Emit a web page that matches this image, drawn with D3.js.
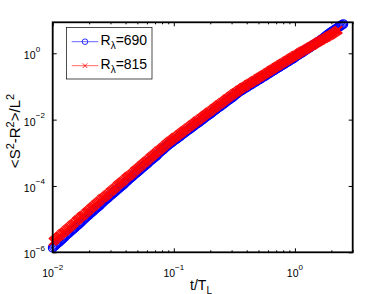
<!DOCTYPE html>
<html><head><meta charset="utf-8">
<script src="https://cdn.jsdelivr.net/npm/d3@7"></script>
<style>
body{margin:0;background:#fff}
svg{display:block}
text{font-family:"Liberation Sans",Arial,Helvetica,sans-serif;fill:#000}
</style>
</head><body>
<svg id="chart" width="390" height="294"></svg>
<script>
// time t/T_L (shared by both series)
const tValues = [
1.000e-2,1.023e-2,1.047e-2,1.072e-2,1.096e-2,1.122e-2,1.148e-2,1.175e-2,1.202e-2,1.230e-2,
1.259e-2,1.288e-2,1.318e-2,1.349e-2,1.380e-2,1.413e-2,1.445e-2,1.479e-2,1.514e-2,1.549e-2,
1.585e-2,1.622e-2,1.660e-2,1.698e-2,1.738e-2,1.778e-2,1.820e-2,1.862e-2,1.905e-2,1.950e-2,
1.995e-2,2.042e-2,2.089e-2,2.138e-2,2.188e-2,2.239e-2,2.291e-2,2.344e-2,2.399e-2,2.455e-2,
2.512e-2,2.570e-2,2.630e-2,2.692e-2,2.754e-2,2.818e-2,2.884e-2,2.951e-2,3.020e-2,3.090e-2,
3.162e-2,3.236e-2,3.311e-2,3.388e-2,3.467e-2,3.548e-2,3.631e-2,3.715e-2,3.802e-2,3.890e-2,
3.981e-2,4.074e-2,4.169e-2,4.266e-2,4.365e-2,4.467e-2,4.571e-2,4.677e-2,4.786e-2,4.898e-2,
5.012e-2,5.129e-2,5.248e-2,5.370e-2,5.495e-2,5.623e-2,5.754e-2,5.888e-2,6.026e-2,6.166e-2,
6.310e-2,6.457e-2,6.607e-2,6.761e-2,6.918e-2,7.079e-2,7.244e-2,7.413e-2,7.586e-2,7.762e-2,
7.943e-2,8.128e-2,8.318e-2,8.511e-2,8.710e-2,8.913e-2,9.120e-2,9.333e-2,9.550e-2,9.772e-2,
1.000e-1,1.023e-1,1.047e-1,1.072e-1,1.096e-1,1.122e-1,1.148e-1,1.175e-1,1.202e-1,1.230e-1,
1.259e-1,1.288e-1,1.318e-1,1.349e-1,1.380e-1,1.413e-1,1.445e-1,1.479e-1,1.514e-1,1.549e-1,
1.585e-1,1.622e-1,1.660e-1,1.698e-1,1.738e-1,1.778e-1,1.820e-1,1.862e-1,1.905e-1,1.950e-1,
1.995e-1,2.042e-1,2.089e-1,2.138e-1,2.188e-1,2.239e-1,2.291e-1,2.344e-1,2.399e-1,2.455e-1,
2.512e-1,2.570e-1,2.630e-1,2.692e-1,2.754e-1,2.818e-1,2.884e-1,2.951e-1,3.020e-1,3.090e-1,
3.162e-1,3.236e-1,3.311e-1,3.388e-1,3.467e-1,3.548e-1,3.631e-1,3.715e-1,3.802e-1,3.890e-1,
3.981e-1,4.074e-1,4.169e-1,4.266e-1,4.365e-1,4.467e-1,4.571e-1,4.677e-1,4.786e-1,4.898e-1,
5.012e-1,5.129e-1,5.248e-1,5.370e-1,5.495e-1,5.623e-1,5.754e-1,5.888e-1,6.026e-1,6.166e-1,
6.310e-1,6.457e-1,6.607e-1,6.761e-1,6.918e-1,7.079e-1,7.244e-1,7.413e-1,7.586e-1,7.762e-1,
7.943e-1,8.128e-1,8.318e-1,8.511e-1,8.710e-1,8.913e-1,9.120e-1,9.333e-1,9.550e-1,9.772e-1,
1.000,1.023,1.047,1.072,1.096,1.122,1.148,1.175,1.202,1.230,
1.259,1.288,1.318,1.349,1.380,1.413,1.445,1.479,1.514,1.549,
1.585,1.622,1.660,1.698,1.738,1.778,1.820,1.862,1.905,1.950,
1.995,2.042,2.089,2.138,2.188,2.239,2.291,2.344,2.399,2.455,
2.512
];

// <S^2-R^2>/L^2 for R_lambda = 690 (blue circles)
const values690 = [
1.38e-6,1.48e-6,1.59e-6,1.74e-6,1.86e-6,2.00e-6,2.14e-6,2.34e-6,2.51e-6,2.75e-6,
2.95e-6,3.24e-6,3.47e-6,3.72e-6,3.98e-6,4.37e-6,4.68e-6,5.01e-6,5.37e-6,5.89e-6,
6.31e-6,6.76e-6,7.24e-6,7.94e-6,8.51e-6,9.33e-6,1.00e-5,1.10e-5,1.18e-5,1.26e-5,
1.35e-5,1.48e-5,1.59e-5,1.70e-5,1.82e-5,2.00e-5,2.14e-5,2.29e-5,2.46e-5,2.63e-5,
2.88e-5,3.09e-5,3.39e-5,3.63e-5,3.89e-5,4.17e-5,4.47e-5,4.90e-5,5.25e-5,5.62e-5,
6.03e-5,6.46e-5,6.92e-5,7.59e-5,8.13e-5,8.71e-5,9.33e-5,1.00e-4,1.07e-4,1.15e-4,
1.26e-4,1.35e-4,1.45e-4,1.59e-4,1.70e-4,1.82e-4,1.95e-4,2.14e-4,2.29e-4,2.46e-4,
2.63e-4,2.82e-4,3.02e-4,3.31e-4,3.55e-4,3.80e-4,4.07e-4,4.37e-4,4.68e-4,5.01e-4,
5.50e-4,5.89e-4,6.31e-4,6.76e-4,7.24e-4,7.76e-4,8.32e-4,9.12e-4,1.00e-3,1.07e-3,
1.15e-3,1.23e-3,1.32e-3,1.45e-3,1.55e-3,1.66e-3,1.78e-3,1.91e-3,2.00e-3,2.14e-3,
2.29e-3,2.46e-3,2.57e-3,2.75e-3,2.95e-3,3.09e-3,3.31e-3,3.55e-3,3.80e-3,3.98e-3,
4.27e-3,4.57e-3,4.90e-3,5.13e-3,5.50e-3,5.89e-3,6.17e-3,6.61e-3,7.08e-3,7.59e-3,
7.94e-3,8.51e-3,9.12e-3,9.55e-3,1.02e-2,1.10e-2,1.18e-2,1.23e-2,1.32e-2,1.41e-2,
1.48e-2,1.59e-2,1.70e-2,1.82e-2,1.91e-2,2.04e-2,2.19e-2,2.34e-2,2.46e-2,2.63e-2,
2.82e-2,2.95e-2,3.16e-2,3.39e-2,3.63e-2,3.80e-2,4.07e-2,4.37e-2,4.57e-2,4.90e-2,
5.25e-2,5.75e-2,6.03e-2,6.46e-2,6.92e-2,7.24e-2,7.59e-2,8.13e-2,8.51e-2,8.91e-2,
9.33e-2,0.100,0.105,0.110,0.115,0.123,0.129,0.135,0.141,0.151,
0.159,0.166,0.174,0.186,0.195,0.204,0.214,0.229,0.240,0.251,
0.269,0.282,0.295,0.309,0.331,0.347,0.363,0.380,0.407,0.427,
0.447,0.468,0.501,0.525,0.550,0.575,0.617,0.646,0.676,0.708,
0.759,0.813,0.851,0.902,0.950,1.00,1.05,1.11,1.20,1.26,
1.33,1.40,1.47,1.55,1.67,1.76,1.86,1.96,2.06,2.18,
2.30,2.49,2.63,2.78,3.01,3.18,3.44,3.63,3.84,4.15,
4.39,4.63,4.90,5.18,5.47,5.78,6.11,6.46,6.82,7.21,7.62
];

// <S^2-R^2>/L^2 for R_lambda = 815 (red crosses)
const values815 = [
2.09e-6,2.24e-6,2.40e-6,2.63e-6,2.82e-6,3.02e-6,3.24e-6,3.55e-6,3.80e-6,3.98e-6,
4.27e-6,4.68e-6,5.01e-6,5.37e-6,5.75e-6,6.31e-6,6.76e-6,7.24e-6,7.76e-6,8.51e-6,
9.12e-6,9.77e-6,1.05e-5,1.15e-5,1.23e-5,1.29e-5,1.38e-5,1.51e-5,1.62e-5,1.74e-5,
1.86e-5,2.04e-5,2.19e-5,2.34e-5,2.51e-5,2.75e-5,2.95e-5,3.16e-5,3.39e-5,3.63e-5,
3.98e-5,4.27e-5,4.47e-5,4.79e-5,5.13e-5,5.50e-5,5.89e-5,6.46e-5,6.92e-5,7.41e-5,
7.94e-5,8.51e-5,9.12e-5,1.00e-4,1.07e-4,1.15e-4,1.23e-4,1.32e-4,1.41e-4,1.51e-4,
1.66e-4,1.78e-4,1.91e-4,2.00e-4,2.14e-4,2.29e-4,2.46e-4,2.69e-4,2.88e-4,3.09e-4,
3.31e-4,3.55e-4,3.80e-4,4.17e-4,4.47e-4,4.79e-4,5.13e-4,5.50e-4,5.89e-4,6.31e-4,
6.92e-4,7.41e-4,7.94e-4,8.51e-4,9.12e-4,9.77e-4,1.05e-3,1.15e-3,1.20e-3,1.29e-3,
1.38e-3,1.48e-3,1.59e-3,1.74e-3,1.86e-3,2.00e-3,2.14e-3,2.29e-3,2.40e-3,2.57e-3,
2.75e-3,2.95e-3,3.09e-3,3.31e-3,3.55e-3,3.72e-3,3.98e-3,4.27e-3,4.57e-3,4.79e-3,
5.13e-3,5.50e-3,5.89e-3,6.17e-3,6.61e-3,7.08e-3,7.41e-3,7.94e-3,8.51e-3,9.12e-3,
9.55e-3,1.02e-2,1.10e-2,1.15e-2,1.23e-2,1.32e-2,1.41e-2,1.48e-2,1.59e-2,1.70e-2,
1.78e-2,1.91e-2,2.04e-2,2.19e-2,2.29e-2,2.46e-2,2.63e-2,2.82e-2,2.95e-2,3.16e-2,
3.39e-2,3.55e-2,3.80e-2,4.07e-2,4.37e-2,4.57e-2,4.90e-2,5.25e-2,5.50e-2,5.89e-2,
6.31e-2,6.61e-2,6.92e-2,7.41e-2,7.94e-2,8.32e-2,8.71e-2,9.33e-2,9.77e-2,0.102,
0.107,0.115,0.120,0.126,0.132,0.141,0.148,0.155,0.162,0.174,
0.182,0.191,0.200,0.214,0.224,0.234,0.246,0.263,0.275,0.288,
0.309,0.324,0.339,0.355,0.380,0.398,0.417,0.437,0.468,0.490,
0.513,0.537,0.575,0.603,0.631,0.661,0.708,0.741,0.776,0.813,
0.871,0.891,0.933,0.989,1.04,1.10,1.16,1.22,1.25,1.32,
1.39,1.47,1.54,1.63,1.67,1.76,1.86,1.96,2.06,2.18,
2.30,2.38,2.51,2.65,2.74,2.90,2.99,3.16,3.34,3.45,
3.65,3.85,4.07,4.31,4.55,4.81,5.08
];

const seriesLabels = ["690", "815"];
const xMajorTicks = [0.01, 0.1, 1];
const xTickExponents = ["\u22122", "\u22121", "0"];
const xMinorTicks = [0.02,0.03,0.04,0.05,0.06,0.07,0.08,0.09,0.2,0.3,0.4,0.5,0.6,0.7,0.8,0.9,2,3];
const yMajorTicks = [1e-6, 1e-4, 1e-2, 1];
const yTickExponents = ["\u22126", "\u22124", "\u22122", "0"];

const L = 52.7, R = 352.7, T = 22.3, B = 252.3;
const svg = d3.select("#chart");
const x = d3.scaleLog().domain([0.01, 3]).range([L, R]);
const y = d3.scaleLog().domain([1e-6, 8.6]).range([B, T]);

// ticks (inward, all four sides)
function styleAxis(g){ g.select(".domain").remove(); g.selectAll("line").attr("stroke","#000").attr("stroke-width",1); }
svg.append("g").attr("transform",`translate(0,${B})`).call(d3.axisBottom(x).tickValues(xMajorTicks).tickSize(-4).tickFormat("")).call(styleAxis);
svg.append("g").attr("transform",`translate(0,${B})`).call(d3.axisBottom(x).tickValues(xMinorTicks).tickSize(-2).tickFormat("")).call(styleAxis);
svg.append("g").attr("transform",`translate(0,${T})`).call(d3.axisTop(x).tickValues(xMajorTicks).tickSize(-4).tickFormat("")).call(styleAxis);
svg.append("g").attr("transform",`translate(0,${T})`).call(d3.axisTop(x).tickValues(xMinorTicks).tickSize(-2).tickFormat("")).call(styleAxis);
svg.append("g").attr("transform",`translate(${L},0)`).call(d3.axisLeft(y).tickValues(yMajorTicks).tickSize(-4).tickFormat("")).call(styleAxis);
svg.append("g").attr("transform",`translate(${R},0)`).call(d3.axisRight(y).tickValues(yMajorTicks).tickSize(-4).tickFormat("")).call(styleAxis);

// x tick labels
xMajorTicks.forEach((v,i)=>{
  const t = svg.append("text").attr("x", x(v)).attr("y", B+25).attr("text-anchor","middle").attr("font-size",10.5);
  t.append("tspan").text("10");
  t.append("tspan").attr("dy",-7).attr("font-size",8).text(xTickExponents[i]);
});
// y tick labels
yMajorTicks.forEach((v,i)=>{
  svg.append("text").attr("x",35.5).attr("y",y(v)+6).attr("text-anchor","end").attr("font-size",10.5).text("10");
  svg.append("text").attr("x",35.8).attr("y",y(v)-1.5).attr("font-size",8).text(yTickExponents[i]);
});

// axis titles
const xl = svg.append("text").attr("x",201).attr("y",290).attr("text-anchor","middle").attr("font-size",14);
xl.append("tspan").text("t/T");
xl.append("tspan").attr("dy",3.5).attr("font-size",10).text("L");

const yl = svg.append("text").attr("transform","translate(20,131) rotate(-90)").attr("text-anchor","middle").attr("font-size",15);
[["<S",0],["2",1],["-R",0],["2",1],[">/L",0],["2",1]].forEach(([s,sup],j)=>{
  yl.append("tspan").attr("font-size", sup?11:15).attr("dy", sup? -6.5 : (j===0?0:6.5)).text(s);
});

// data
const crossPath = s => `M${-s},${-s}L${s},${s}M${-s},${s}L${s},${-s}`;
function drawSeries(vals, color, marker){
  const pts = vals.map((v,i)=>[x(tValues[i]), y(v)]);
  svg.append("path").attr("d", d3.line()(pts)).attr("fill","none").attr("stroke",color).attr("stroke-width",0.6);
  const g = svg.append("g");
  if(marker==="o"){
    g.selectAll("circle").data(pts).join("circle").attr("cx",d=>d[0]).attr("cy",d=>d[1]).attr("r",4.3)
      .attr("fill","none").attr("stroke",color).attr("stroke-width",1.2);
  } else {
    g.selectAll("path").data(pts).join("path").attr("transform",d=>`translate(${d[0]},${d[1]})`).attr("d",crossPath(3.8))
      .attr("fill","none").attr("stroke",color).attr("stroke-width",1.6);
  }
}
drawSeries(values690, "#0000ff", "o");
drawSeries(values815, "#ff0000", "x");

// box
svg.append("rect").attr("x",L).attr("y",T).attr("width",R-L).attr("height",B-T).attr("fill","none").attr("stroke","#000").attr("stroke-width",1.8);

// legend
const lg = svg.append("g");
lg.append("rect").attr("x",66.5).attr("y",27.5).attr("width",85.5).attr("height",51.5).attr("fill","#fff").attr("stroke","#000").attr("stroke-width",0.7);
const entries = [{c:"#0000ff",m:"o",yy:41.7},{c:"#ff0000",m:"x",yy:65.7}];
entries.forEach((e,i)=>{
  lg.append("line").attr("x1",71.7).attr("x2",98.3).attr("y1",e.yy).attr("y2",e.yy).attr("stroke",e.c).attr("stroke-width",0.6);
  if(e.m==="o") lg.append("circle").attr("cx",85).attr("cy",e.yy).attr("r",2.8).attr("fill","none").attr("stroke",e.c).attr("stroke-width",0.8);
  else lg.append("path").attr("transform",`translate(85,${e.yy})`).attr("d",crossPath(2.3)).attr("fill","none").attr("stroke",e.c).attr("stroke-width",0.8);
  const t = lg.append("text").attr("x",100.5).attr("y",e.yy+3).attr("font-size",14);
  t.append("tspan").text("R");
  t.append("tspan").attr("dy",4).attr("font-size",10).text("\u03bb");
  t.append("tspan").attr("dy",-4).text("=" + seriesLabels[i]);
});
</script>
</body></html>
